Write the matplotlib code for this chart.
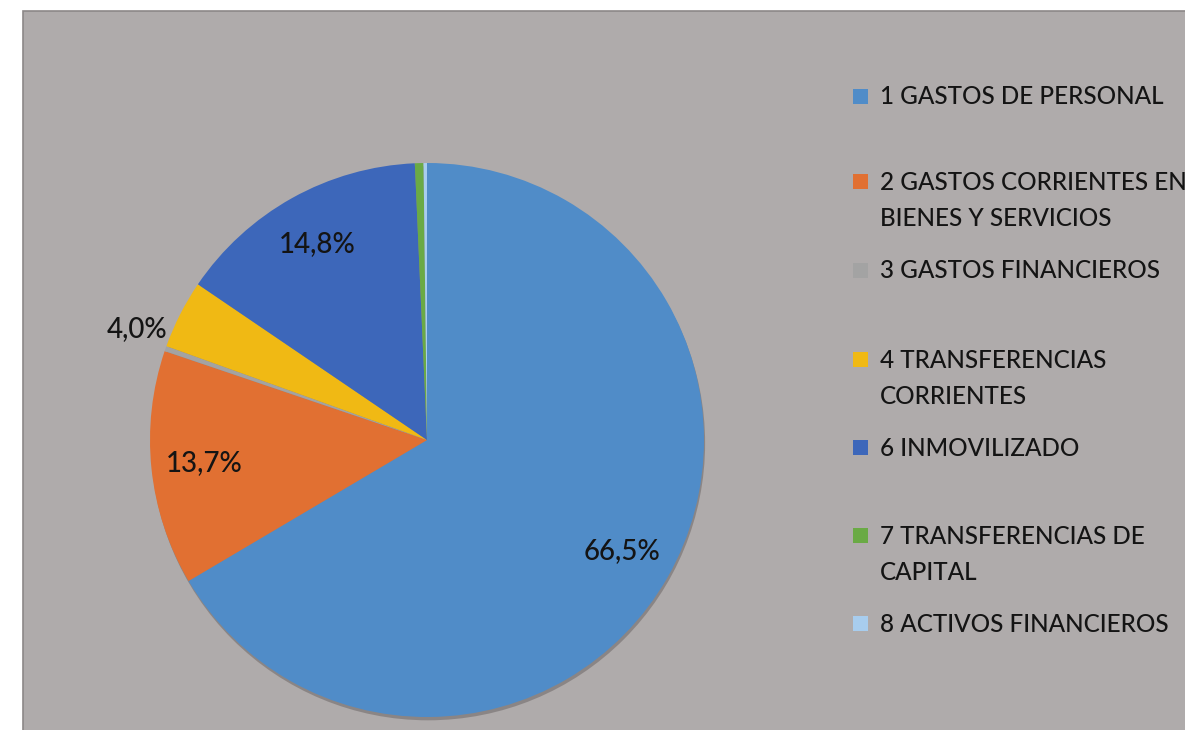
import numpy as np
import matplotlib
matplotlib.use('Agg')
import matplotlib.pyplot as plt
from matplotlib.patches import Rectangle, Circle

plt.rcParams['font.family'] = ['Lato', 'DejaVu Sans']

categories = ['1 GASTOS DE PERSONAL',
              '2 GASTOS CORRIENTES EN\nBIENES Y SERVICIOS',
              '3 GASTOS FINANCIEROS',
              '4 TRANSFERENCIAS\nCORRIENTES',
              '6 INMOVILIZADO',
              '7 TRANSFERENCIAS DE\nCAPITAL',
              '8 ACTIVOS FINANCIEROS']
values = [66.5, 13.7, 0.3, 4.0, 14.8, 0.5, 0.2]
pct_labels = ['66,5%', '13,7%', '', '4,0%', '14,8%', '', '']
colors = ['#508CC8', '#E17032', '#A3A3A3', '#F0B914', '#3D67BA', '#6AAA45', '#A8CDEE']

W, H = 1185, 730
fig = plt.figure(figsize=(W / 100, H / 100), dpi=100)
fig.patch.set_facecolor('white')

# background axes holding the grey chart area and the legend (pixel coords, y down)
bg = fig.add_axes([0, 0, 1, 1], zorder=0)
bg.set_xlim(0, W)
bg.set_ylim(H, 0)
bg.axis('off')
bg.add_patch(Rectangle((23, 11), W, H, facecolor='#AFABAB', edgecolor='#8C8888', lw=1.2))

# pie axes: centre (427,440), radius 277 px
cx, cy, r = 427, 440, 277
ax = fig.add_axes([(cx - 1.2 * r) / W, (H - cy - 1.2 * r) / H, 2.4 * r / W, 2.4 * r / H],
                  zorder=1)

ax.add_patch(Circle((0.004, -0.012), 1.0, color='#5E5858', alpha=0.45, zorder=0, lw=0))
wedges, _ = ax.pie(values, colors=colors, startangle=90, counterclock=False,
                   radius=1.0, wedgeprops=dict(linewidth=0))
ax.set_xlim(-1.2, 1.2)
ax.set_ylim(-1.2, 1.2)
ax.axis('off')

for w, lab in zip(wedges, pct_labels):
    if not lab:
        continue
    mid = (w.theta1 + w.theta2) / 2
    if (w.theta2 - w.theta1) < 20:
        # small slice: label sits outside, a little below the slice middle
        ang, dist = np.deg2rad(mid + 6), 1.12
    else:
        ang, dist = np.deg2rad(mid), 0.81
    ax.text(dist * np.cos(ang), dist * np.sin(ang), lab, ha='center', va='center',
            fontsize=20, color='#141414', fontweight='medium')

# legend
leg_y = [97, 182, 271, 360, 448, 536, 624]
line_gap = 36
for lab, col, y in zip(categories, colors, leg_y):
    bg.add_patch(Rectangle((853, y - 8), 15, 15, facecolor=col, lw=0))
    for i, line in enumerate(lab.split('\n')):
        bg.text(880, y + i * line_gap, line, ha='left', va='center',
                fontsize=17.5, color='#141414', fontweight='medium')

fig.savefig('out.png', dpi=100, facecolor=fig.get_facecolor())
